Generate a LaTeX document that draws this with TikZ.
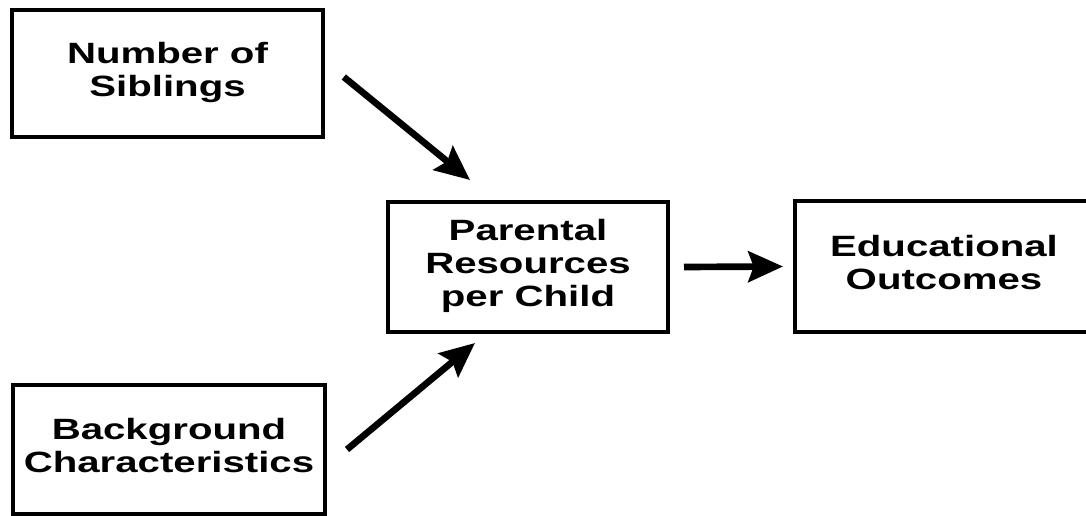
\documentclass[tikz,border=0pt]{standalone}
\usepackage{fontspec}
\setmainfont{Liberation Sans}
\usepackage{graphicx}
\usetikzlibrary{arrows.meta,calc}
\newcommand{\boxtext}[1]{\scalebox{1.37}[1]{\begin{tabular}{@{}c@{}}#1\end{tabular}}}

\begin{document}
\begin{tikzpicture}[x=0.75pt, y=0.75pt, font=\fontsize{22}{25}\selectfont\bfseries,
	factor/.style={draw, line width=3pt, inner sep=0pt},
	arr/.style={line width=5pt, -{Stealth[length=26pt,width=23pt,inset=4pt]}}]
	\useasboundingbox (0,0) rectangle (1086,515);
	\clip (0,0) rectangle (1086,515);
	%boxes
	\node[factor, minimum width=233pt, minimum height=95pt] (sib) at (167.5,441.5)
	{\boxtext{Number of\\Siblings}};
	\node[factor, minimum width=234pt, minimum height=97pt] (bg) at (169,65.5)
	{\boxtext{Background\\Characteristics}};
	\node[factor, minimum width=210pt, minimum height=97.5pt] (par) at (528,248)
	{\boxtext{Parental\\Resources\\per Child}};
	\node[factor, minimum width=223.5pt, minimum height=98pt] (edu) at (944,248.5)
	{\boxtext{Educational\\Outcomes}};
	%arrows
	\draw[arr] ($(sib.east)+(19,-3.5)$) -- ($(par.north west)+(84,20)$);
	\draw[arr] ($(bg.east)+(20,0)$) -- ($(par.south west)+(89,-9)$);
	\draw[arr] ($(par.east)+(14,0)$) -- ($(edu.west)+(-10,0)$);
\end{tikzpicture}
\end{document}
